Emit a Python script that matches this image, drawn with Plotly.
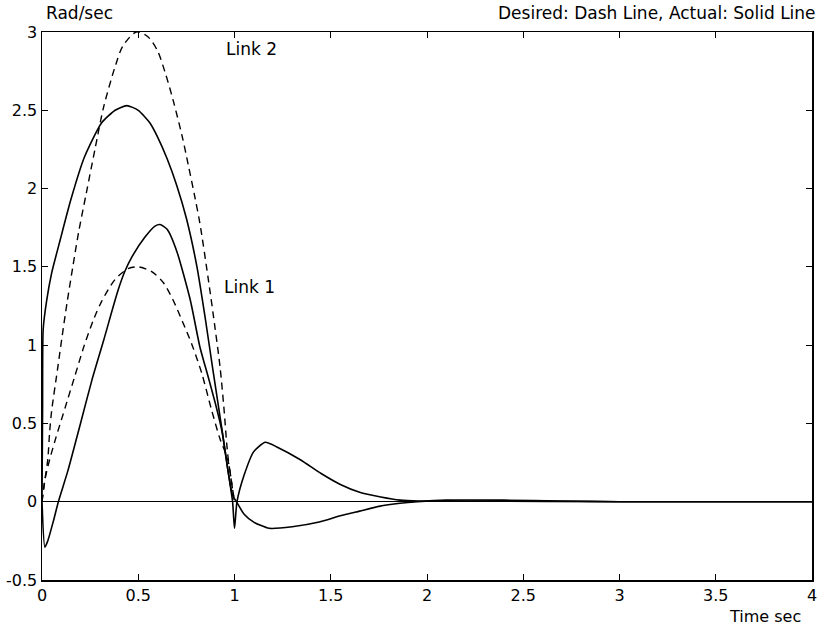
import plotly.graph_objects as go

# Link 2 desired (dashed)
t_d2 = [0, 0.015, 0.03, 0.04, 0.05, 0.08, 0.105, 0.13, 0.16, 0.19, 0.23, 0.275, 0.32, 0.38, 0.42, 0.49,
        0.55, 0.6, 0.64, 0.68, 0.727, 0.76, 0.795, 0.82, 0.864, 0.9, 0.925, 0.945, 0.965, 0.99, 1.0]
v_d2 = [0, 0.14, 0.27, 0.45, 0.58, 0.84, 1.06, 1.27, 1.5, 1.72, 1.97, 2.25, 2.52, 2.78, 2.91, 3.0,
        2.97, 2.88, 2.74, 2.57, 2.34, 2.15, 1.94, 1.78, 1.42, 1.10, 0.86, 0.6, 0.3, 0.08, 0]

# Link 1 desired (dashed)
t_d1 = [0, 0.015, 0.04, 0.07, 0.1, 0.13, 0.17, 0.22, 0.27, 0.31, 0.38, 0.45, 0.5, 0.57, 0.63, 0.68,
        0.73, 0.78, 0.83, 0.88, 0.925, 0.965, 0.99, 1.0]
v_d1 = [0, 0.14, 0.27, 0.40, 0.52, 0.64, 0.80, 1.0, 1.17, 1.28, 1.42, 1.49, 1.5, 1.47, 1.40, 1.29,
        1.15, 1.0, 0.82, 0.59, 0.40, 0.27, 0.08, 0]

# Link 2 actual (solid)
t_a2 = [0, 0.003, 0.006, 0.025, 0.05, 0.094, 0.15, 0.22, 0.31, 0.38, 0.44, 0.5, 0.56, 0.6,
        0.65, 0.7, 0.75, 0.805, 0.847, 0.888, 0.935, 0.966, 0.99, 1.01, 1.05, 1.1, 1.18,
        1.3, 1.44, 1.55, 1.65, 1.75, 1.86, 1.95, 2.1, 2.4, 2.7, 3.0, 4.0]
v_a2 = [0, 0.6, 1.1, 1.29, 1.46, 1.67, 1.93, 2.20, 2.42, 2.50, 2.53, 2.50, 2.42, 2.33,
        2.19, 2.02, 1.81, 1.50, 1.18, 0.84, 0.46, 0.2, 0.04, 0, -0.08, -0.13, -0.17,
        -0.16, -0.13, -0.09, -0.06, -0.03, -0.01, 0.0, 0.01, 0.01, 0.005, 0, 0]

# Link 1 actual (solid)
t_a1 = [0, 0.015, 0.03, 0.06, 0.085, 0.135, 0.2, 0.26, 0.32, 0.395, 0.43, 0.47, 0.535, 0.587, 0.613,
        0.65, 0.70, 0.77, 0.82, 0.865, 0.9, 0.935, 0.966, 0.99, 1.0, 1.013, 1.05, 1.1, 1.16,
        1.22, 1.34, 1.45, 1.55, 1.65, 1.76, 1.86, 1.96, 2.2, 3.0, 4.0]
v_a1 = [0, -0.29, -0.25, -0.12, 0, 0.2, 0.5, 0.78, 1.03, 1.35, 1.47, 1.57, 1.69, 1.76, 1.77,
        1.74, 1.60, 1.29, 0.99, 0.79, 0.63, 0.45, 0.2, 0.0, -0.17, 0, 0.17, 0.32, 0.38,
        0.35, 0.27, 0.18, 0.11, 0.06, 0.03, 0.01, 0.005, 0.005, 0, 0]

x_ticks = [0, 0.5, 1, 1.5, 2, 2.5, 3, 3.5, 4]
x_labels = ["0", "0.5", "1", "1.5", "2", "2.5", "3", "3.5", "4"]
y_ticks = [-0.5, 0, 0.5, 1, 1.5, 2, 2.5, 3]
y_labels = ["-0.5", "0", "0.5", "1", "1.5", "2", "2.5", "3"]

FONT = "DejaVu Sans, Verdana, sans-serif"

fig = go.Figure()
dash_style = dict(color="black", width=1.4, dash="7px,5px", shape="spline", smoothing=0.8)
solid_style = dict(color="black", width=1.6, shape="spline", smoothing=0.6)
fig.add_trace(go.Scatter(x=t_d2, y=v_d2, mode="lines", line=dash_style, name="Link 2 desired"))
fig.add_trace(go.Scatter(x=t_d1, y=v_d1, mode="lines", line=dash_style, name="Link 1 desired"))
fig.add_trace(go.Scatter(x=t_a2, y=v_a2, mode="lines", line=solid_style, name="Link 2 actual"))
fig.add_trace(go.Scatter(x=t_a1, y=v_a1, mode="lines", line=solid_style, name="Link 1 actual"))

axis_common = dict(
    showgrid=False, showline=True, linecolor="black", linewidth=1.5, mirror="allticks",
    ticks="inside", ticklen=6, tickwidth=1, tickcolor="black", automargin=False,
    tickfont=dict(family=FONT, size=16, color="black"),
)
fig.update_xaxes(range=[0, 4], tickvals=x_ticks, ticktext=x_labels, zeroline=False, **axis_common)
fig.update_yaxes(range=[-0.5, 3], tickvals=y_ticks, ticktext=y_labels, zeroline=True,
                 zerolinecolor="black", zerolinewidth=1.2, **axis_common)

txt_font = dict(family=FONT, size=17, color="black")
fig.add_annotation(text="Link 2", x=1.086, y=2.89, xref="x", yref="y", showarrow=False, font=txt_font)
fig.add_annotation(text="Link 1", x=1.08, y=1.37, xref="x", yref="y", showarrow=False, font=txt_font)
fig.add_annotation(text="Rad/sec", x=0.002, y=1.035, xref="paper", yref="paper", xanchor="left",
                   yanchor="middle", showarrow=False, font=txt_font)
fig.add_annotation(text="Desired: Dash Line, Actual: Solid Line", x=1.008, y=1.035, xref="paper",
                   yref="paper", xanchor="right", yanchor="middle", showarrow=False, font=txt_font)
fig.add_annotation(text="Time sec", x=0.988, y=-0.0675, xref="paper", yref="paper", xanchor="right",
                   yanchor="middle", showarrow=False, font=dict(family=FONT, size=16, color="black"))

fig.update_layout(
    width=823, height=631, showlegend=False, hovermode=False,
    margin=dict(l=42, r=11, t=32, b=51, autoexpand=False),
    paper_bgcolor="white", plot_bgcolor="white",
    font=dict(family=FONT, color="black"),
)

fig.write_html("out.html", config={"displayModeBar": False, "staticPlot": True},
               post_script="document.body.style.margin='0';document.body.style.padding='0';"
                           "document.body.style.overflow='hidden';")
